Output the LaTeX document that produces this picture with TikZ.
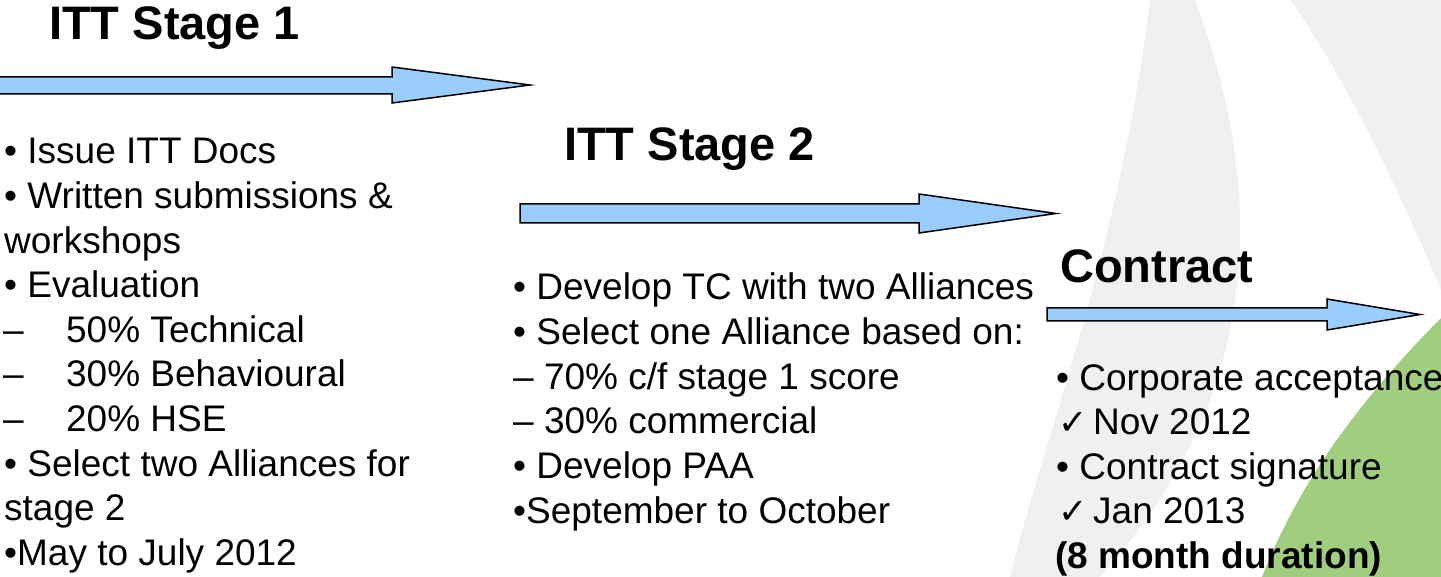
\documentclass[tikz,border=0pt]{standalone}
\usepackage{fontspec}
\setmainfont{Liberation Sans}
\newfontfamily\dejavu{DejaVu Sans}
\definecolor{bggray}{RGB}{239,240,239}
\definecolor{leafgreen}{RGB}{160,205,126}
\definecolor{arrowblue}{RGB}{153,204,255}
\tikzset{
  body/.style={anchor=base west, inner sep=0pt, font=\fontsize{37}{44}\selectfont},
  ttl/.style={anchor=base west, inner sep=0pt, font=\fontsize{47}{56}\selectfont\bfseries},
  bigarrow/.style={draw=black, line width=1.5pt, fill=arrowblue, line join=miter},
}
\newcommand{\chk}{\makebox[35pt][l]{\dejavu\fontsize{35}{35}\selectfont ✓}}
\newcommand{\dsh}{\makebox[63pt][l]{–}}
\begin{document}
\begin{tikzpicture}[x=1pt,y=-1pt]
\useasboundingbox (0,0) rectangle (1441,577);
% background swooshes
\fill[bggray] (1150,0) .. controls (1120,250) and (1040,450) .. (1010,577) -- (1441,577) -- (1441,0) -- cycle;
\fill[white] (1195,0) .. controls (1270,200) and (1260,400) .. (1100,577) -- (1441,577) -- (1441,290) .. controls (1390,170) and (1340,70) .. (1290,0) -- cycle;
\fill[leafgreen] (1441,318) .. controls (1360,400) and (1300,480) .. (1262,577) -- (1441,577) -- cycle;
% arrows
\draw[bigarrow] (-5,77) -- (392,77) -- (392,67) -- (530,85) -- (392,103) -- (392,94) -- (-5,94) -- cycle;
\draw[bigarrow] (520,204) -- (919,204) -- (919,194) -- (1056,213.5) -- (919,233) -- (919,223) -- (520,223) -- cycle;
\draw[bigarrow] (1047,308) -- (1327,308) -- (1327,299) -- (1420,314.5) -- (1327,330) -- (1327,321) -- (1047,321) -- cycle;
% titles
\node[ttl] (t1) at (49,40) {ITT Stage 1};
\node[ttl] (t2) at (564,161) {ITT Stage 2};
\node[ttl] (t3) at (1060,283) {Contract};
% left column
\node[body] (a1) at (4,164) {• Issue ITT Docs};
\node[body] (a2) at (4,208.6) {• Written submissions \&};
\node[body] (a3) at (4,253.2) {workshops};
\node[body] (a4) at (4,297.8) {• Evaluation};
\node[body] (a5) at (3,342.4) {\dsh 50\% Technical};
\node[body] (a6) at (3,387) {\dsh 30\% Behavioural};
\node[body] (a7) at (3,431.6) {\dsh 20\% HSE};
\node[body] (a8) at (4,476.2) {• Select two Alliances for};
\node[body] (a9) at (4,520.8) {stage 2};
\node[body] (a10) at (4,565.4) {•May to July 2012};
% middle column
\node[body] (b1) at (513,300) {• Develop TC with two Alliances};
\node[body] (b2) at (513,344.6) {• Select one Alliance based on:};
\node[body] (b3) at (513,389.2) {– 70\% c/f stage 1 score};
\node[body] (b4) at (513,433.8) {– 30\% commercial};
\node[body] (b5) at (513,478.4) {• Develop PAA};
\node[body] (b6) at (513,523) {•September to October};
% right column
\node[body] (c1) at (1056,390) {• Corporate acceptance};
\node[body] (c2) at (1058,434.6) {\chk Nov 2012};
\node[body] (c3) at (1056,479.2) {• Contract signature};
\node[body] (c4) at (1058,523.8) {\chk Jan 2013};
\node[body, font=\fontsize{37}{44}\selectfont\bfseries] (c5) at (1055,568.4) {(8 month duration)};
\end{tikzpicture}
\end{document}
